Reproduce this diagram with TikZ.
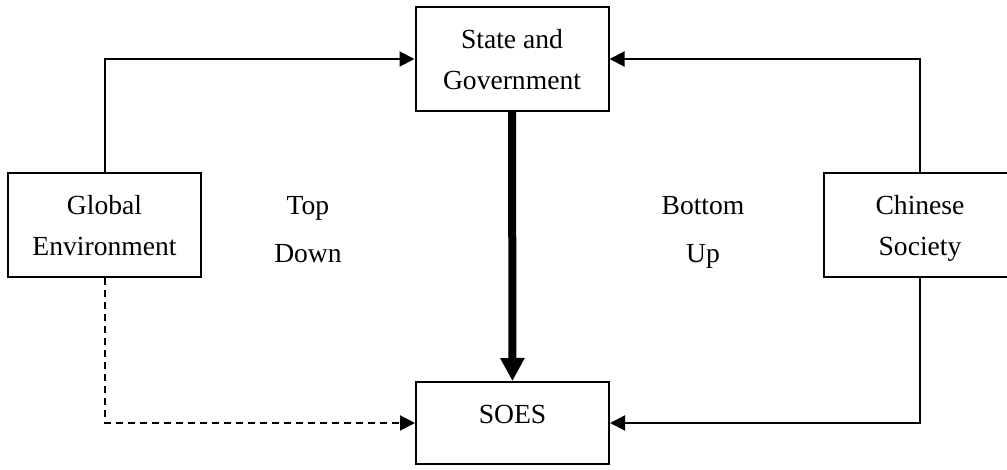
\documentclass[tikz,border=0pt]{standalone}
\usepackage{fontspec}
\setmainfont{Liberation Serif}
\usetikzlibrary{arrows.meta}
\tikzset{
  box/.style={draw,line width=2pt,align=center,inner sep=0pt,minimum width=193pt,minimum height=104pt,text depth=0pt,font=\fontsize{27.6}{41}\selectfont},
  lbl/.style={align=center,inner sep=0pt,text depth=0pt,font=\fontsize{27.6}{48}\selectfont},
  ar/.style={-{Triangle[length=15pt,width=15pt]},line width=2pt},
  dar/.style={ar,dash pattern=on 7pt off 5pt},
  bar/.style={-{Triangle[length=23pt,width=23pt]},line width=8pt},
}

\begin{document}
\begin{tikzpicture}[x=1pt,y=-1pt]
  \useasboundingbox (0,0) rectangle (1007,469);
  \clip (0,0) rectangle (1007,469);
  \node[box] (sg) at (512,59) {State and\\Government};
  \node[box] (ge) at (104.5,225) {Global\\Environment};
  \node[box] (cs) at (920,225) {Chinese\\Society};
  \node[box,minimum height=82pt,text height=20pt,text depth=20pt] (soe) at (512.5,423) {SOES};
  \node[lbl] (td) at (308,229) {Top\\Down};
  \node[lbl] (bu) at (703,229) {Bottom\\Up};
  % flows into the state
  \draw[ar] (ge.north) |- (sg.west);
  \draw[ar] (cs.north) |- (sg.east);
  % flows into the SOEs
  \draw[bar] (sg) -- (soe);
  \draw[ar] (cs.south) |- (soe.east);
  \draw[dar] (ge.south) |- (soe.west);
\end{tikzpicture}
\end{document}
